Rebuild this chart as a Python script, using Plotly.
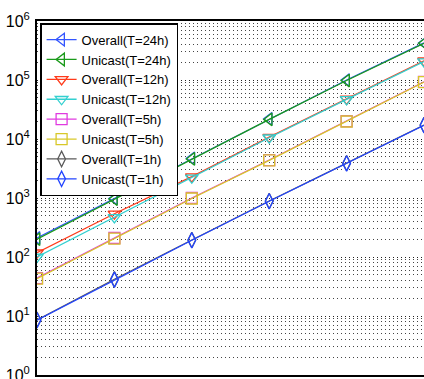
import plotly.graph_objects as go

x_vals = [1, 2, 3, 4, 5, 6]

overall_24h = [210, 980, 4700, 22000, 100000, 425000]
unicast_24h = [200, 960, 4600, 21500, 98000, 420000]
overall_12h = [118, 540, 2300, 10800, 48000, 212000]
unicast_12h = [100, 470, 2200, 10500, 47000, 205000]
overall_5h = [44, 210, 1000, 4400, 20000, 93000]
unicast_5h = [43, 205, 980, 4350, 19800, 92000]
overall_1h = [8.6, 42, 194, 890, 3900, 17300]
unicast_1h = [8.5, 41, 192, 880, 3850, 17100]

y_tickvals = [1, 10, 100, 1000, 10000, 100000, 1000000]
y_ticktext = ["10<sup>0</sup>", "10<sup>1</sup>", "10<sup>2</sup>", "10<sup>3</sup>",
              "10<sup>4</sup>", "10<sup>5</sup>", "10<sup>6</sup>"]

series = [
    ("Overall(T=24h)", overall_24h, "#3355ff", "triangle-left-open"),
    ("Unicast(T=24h)", unicast_24h, "#1a9a1a", "triangle-left-open"),
    ("Overall(T=12h)", overall_12h, "#ff3a1a", "triangle-down-open"),
    ("Unicast(T=12h)", unicast_12h, "#33d0d0", "triangle-down-open"),
    ("Overall(T=5h)", overall_5h, "#e03ae0", "square-open"),
    ("Unicast(T=5h)", unicast_5h, "#d8c828", "square-open"),
    ("Overall(T=1h)", overall_1h, "#5a5a5a", "diamond-tall-open"),
    ("Unicast(T=1h)", unicast_1h, "#2244ff", "diamond-tall-open"),
]

fig = go.Figure()
for name, vals, color, sym in series:
    fig.add_trace(go.Scatter(
        x=x_vals, y=vals, name=name, mode="lines+markers",
        line=dict(color=color, width=1.3),
        marker=dict(symbol=sym, size=11, color=color, line=dict(color=color, width=1.3)),
    ))

fig.update_layout(
    width=424, height=379,
    margin=dict(l=37, r=0, t=21, b=4),
    plot_bgcolor="white", paper_bgcolor="white",
    font=dict(family="Liberation Sans, Arial, sans-serif", size=14, color="black"),
    showlegend=True,
    legend=dict(
        x=0.008, y=0.994, xanchor="left", yanchor="top",
        bgcolor="white", bordercolor="black", borderwidth=1.5,
        font=dict(size=13), tracegroupgap=0, itemwidth=30,
    ),
    xaxis=dict(
        range=[1, 6], showgrid=False, zeroline=False, showticklabels=False,
        showline=True, linecolor="black", linewidth=2, mirror=True, ticks="",
        automargin=False,
    ),
    yaxis=dict(
        type="log", range=[0, 6], showline=True, linecolor="black", linewidth=2,
        mirror=False, zeroline=False, automargin=False,
        tickvals=y_tickvals, ticktext=y_ticktext, ticks="", ticklabelstandoff=2,
        ticklabeloverflow="allow",
        tickfont=dict(size=16),
        showgrid=True, gridcolor="#222222", griddash="1px,3px", gridwidth=1,
        minor=dict(showgrid=True, gridcolor="#444444", griddash="1px,3px", gridwidth=1,
                   dtick="D1", ticks=""),
    ),
)

fig.write_html("out.html", config={"displayModeBar": False},
               post_script="document.body.style.margin='0';document.body.style.overflow='hidden';")
